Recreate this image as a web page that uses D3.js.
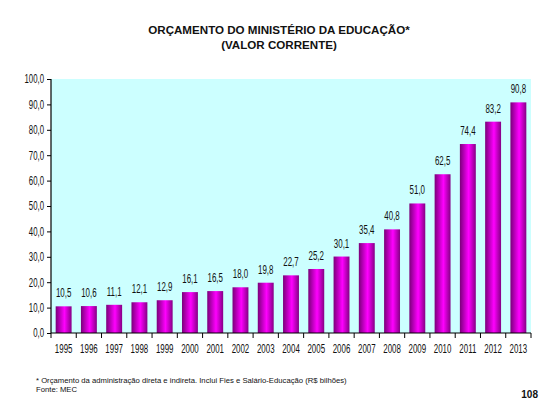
<!DOCTYPE html>
<html>
<head>
<meta charset="utf-8">
<script src="https://cdn.jsdelivr.net/npm/d3@7"></script>
<style>
  body { margin: 0; background: #fff; }
  text { font-family: "Liberation Sans", Arial, sans-serif; }
</style>
</head>
<body>
<svg id="chart"></svg>
<script>
const years = ["1995","1996","1997","1998","1999","2000","2001","2002","2003","2004",
               "2005","2006","2007","2008","2009","2010","2011","2012","2013"];
const values = [10.5, 10.6, 11.1, 12.1, 12.9, 16.1, 16.5, 18.0, 19.8, 22.7,
                25.2, 30.1, 35.4, 40.8, 51.0, 62.5, 74.4, 83.2, 90.8];
const yTicks = [0, 10, 20, 30, 40, 50, 60, 70, 80, 90, 100];

const width = 557;
const height = 419;
const plot = {left: 51, right: 531, top: 79, bottom: 333};
const narrow = 0.65; // fonte estreita simulada

const fmt = v => v.toFixed(1).replace(".", ",");

let svg = d3.select("#chart")
  .attr("width", width)
  .attr("height", height);

//gradiente das barras
let grad = svg.append("defs").append("linearGradient")
  .attr("id", "barGrad")
  .attr("x1", "0%").attr("x2", "100%")
  .attr("y1", "0%").attr("y2", "0%");
grad.append("stop").attr("offset", "0%").attr("stop-color", "#7a007a");
grad.append("stop").attr("offset", "55%").attr("stop-color", "#ff00ff");
grad.append("stop").attr("offset", "100%").attr("stop-color", "#850085");

let scX = d3.scaleBand()
  .domain(years)
  .range([plot.left, plot.right])
  .paddingInner(0.37)
  .paddingOuter(0.185);

let scY = d3.scaleLinear()
  .domain([0, 100])
  .range([plot.bottom, plot.top]);

//fundo
svg.append("rect")
  .attr("x", plot.left)
  .attr("y", plot.top)
  .attr("width", plot.right - plot.left)
  .attr("height", plot.bottom - plot.top)
  .attr("fill", "#ccffff");

//título
let title = svg.append("text")
  .attr("text-anchor", "middle")
  .style("font-weight", "bold")
  .style("font-size", "11.6px")
  .attr("fill", "#111");
title.append("tspan").attr("x", 279).attr("y", 34).text("ORÇAMENTO DO MINISTÉRIO DA EDUCAÇÃO*");
title.append("tspan").attr("x", 279).attr("y", 49).text("(VALOR CORRENTE)");

//barras
svg.selectAll(".bar")
  .data(values)
  .enter()
  .append("rect")
  .attr("class", "bar")
  .attr("x", (d, i) => scX(years[i]))
  .attr("width", scX.bandwidth())
  .attr("y", d => scY(d))
  .attr("height", d => scY(0) - scY(d))
  .attr("fill", "url(#barGrad)");

//rótulos
svg.selectAll(".lbl")
  .data(values)
  .enter()
  .append("text")
  .attr("class", "lbl")
  .attr("transform", (d, i) => `translate(${scX(years[i]) + scX.bandwidth() / 2}, ${scY(d) - 9}) scale(${narrow}, 1)`)
  .attr("text-anchor", "middle")
  .style("font-size", "12.2px")
  .attr("fill", "#111")
  .text(d => fmt(d));

//eixo Y
let axisY = svg.append("g")
  .attr("transform", `translate(${plot.left}, 0)`)
  .call(d3.axisLeft(scY).tickValues(yTicks).tickSize(4).tickPadding(3).tickFormat(fmt));
axisY.select(".domain").attr("stroke", "#000").attr("stroke-width", 1.2).attr("d", `M0,${plot.top}V${plot.bottom}`);
axisY.selectAll("text")
  .style("font-size", "12px")
  .style("font-family", "'Liberation Sans', Arial, sans-serif")
  .attr("fill", "#111")
  .attr("x", -7 / narrow)
  .attr("transform", `scale(${narrow}, 1)`);

//eixo X
let axisX = svg.append("g")
  .attr("transform", `translate(0, ${plot.bottom})`)
  .call(d3.axisBottom(scX).tickSize(0).tickPadding(11));
axisX.select(".domain").attr("stroke", "#000").attr("stroke-width", 1.2).attr("d", `M${plot.left},0H${plot.right}`);
axisX.selectAll("text")
  .style("font-size", "12.2px")
  .style("font-family", "'Liberation Sans', Arial, sans-serif")
  .attr("fill", "#111")
  .attr("transform", `scale(${narrow}, 1)`);

//marcas entre categorias
axisX.selectAll(".sep")
  .data(d3.range(years.length + 1))
  .enter()
  .append("line")
  .attr("class", "sep")
  .attr("x1", i => plot.left + i * scX.step())
  .attr("x2", i => plot.left + i * scX.step())
  .attr("y1", 0)
  .attr("y2", 5)
  .attr("stroke", "#000");

//notas
let note = svg.append("text")
  .style("font-size", "7.7px")
  .attr("fill", "#111");
note.append("tspan").attr("x", 36).attr("y", 383)
  .text("* Orçamento da administração direta e indireta. Inclui Fies e Salário-Educação (R$ bilhões)");
note.append("tspan").attr("x", 36).attr("y", 392).text("Fonte: MEC");

svg.append("text")
  .attr("x", 538)
  .attr("y", 398)
  .attr("text-anchor", "end")
  .style("font-weight", "bold")
  .style("font-size", "10px")
  .attr("fill", "#111")
  .text("108");
</script>
</body>
</html>
